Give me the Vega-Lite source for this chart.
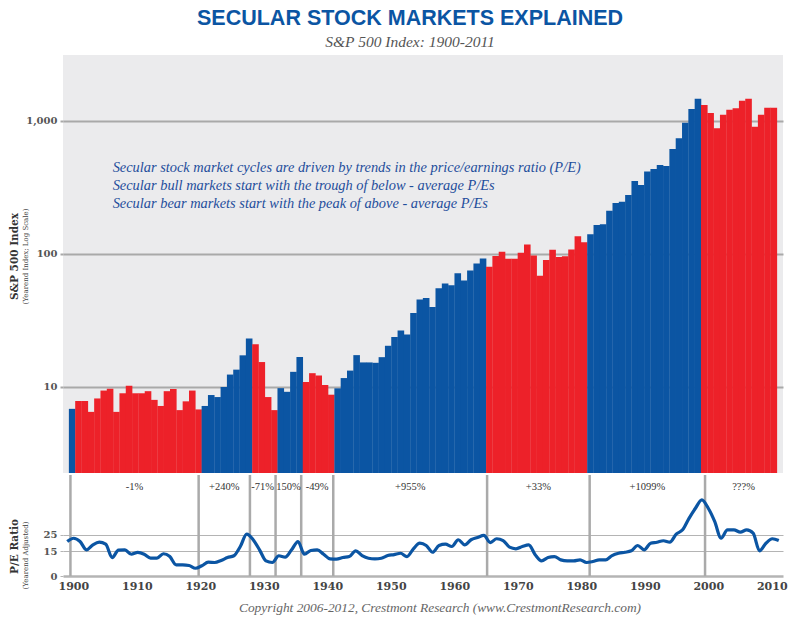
{
  "$schema": "https://vega.github.io/schema/vega-lite/v6.json",
  "description": "Secular stock markets explained: S&P 500 yearend index (log scale) with P/E ratio, 1900-2011.",
  "background": "white",
  "padding": {"left": 8, "top": 8, "right": 8, "bottom": 4},
  "title": {
    "text": "SECULAR STOCK MARKETS EXPLAINED",
    "subtitle": "S&P 500 Index: 1900-2011",
    "font": "Liberation Sans",
    "fontSize": 21.5,
    "fontWeight": "bold",
    "color": "#0b55a3",
    "subtitleFont": "Liberation Serif",
    "subtitleFontStyle": "italic",
    "subtitleFontSize": 15.5,
    "subtitleColor": "#555555",
    "subtitlePadding": 5,
    "anchor": "middle",
    "dx": 12,
    "offset": 5
  },
  "datasets": {
    "sp": [
      {"year": 1900, "index": 6.85, "market": "Bull"},
      {"year": 1901, "index": 7.85, "market": "Bear"},
      {"year": 1902, "index": 7.85, "market": "Bear"},
      {"year": 1903, "index": 6.5, "market": "Bear"},
      {"year": 1904, "index": 8.2, "market": "Bear"},
      {"year": 1905, "index": 9.4, "market": "Bear"},
      {"year": 1906, "index": 9.7, "market": "Bear"},
      {"year": 1907, "index": 6.5, "market": "Bear"},
      {"year": 1908, "index": 8.97, "market": "Bear"},
      {"year": 1909, "index": 10.2, "market": "Bear"},
      {"year": 1910, "index": 8.97, "market": "Bear"},
      {"year": 1911, "index": 8.97, "market": "Bear"},
      {"year": 1912, "index": 9.3, "market": "Bear"},
      {"year": 1913, "index": 8.0, "market": "Bear"},
      {"year": 1914, "index": 7.2, "market": "Bear"},
      {"year": 1915, "index": 9.3, "market": "Bear"},
      {"year": 1916, "index": 9.66, "market": "Bear"},
      {"year": 1917, "index": 6.7, "market": "Bear"},
      {"year": 1918, "index": 7.8, "market": "Bear"},
      {"year": 1919, "index": 9.4, "market": "Bear"},
      {"year": 1920, "index": 6.78, "market": "Bear"},
      {"year": 1921, "index": 7.2, "market": "Bull"},
      {"year": 1922, "index": 8.7, "market": "Bull"},
      {"year": 1923, "index": 8.4, "market": "Bull"},
      {"year": 1924, "index": 10.0, "market": "Bull"},
      {"year": 1925, "index": 12.4, "market": "Bull"},
      {"year": 1926, "index": 13.5, "market": "Bull"},
      {"year": 1927, "index": 17.3, "market": "Bull"},
      {"year": 1928, "index": 23.1, "market": "Bull"},
      {"year": 1929, "index": 21.0, "market": "Bear"},
      {"year": 1930, "index": 15.4, "market": "Bear"},
      {"year": 1931, "index": 8.4, "market": "Bear"},
      {"year": 1932, "index": 6.7, "market": "Bear"},
      {"year": 1933, "index": 9.8, "market": "Bull"},
      {"year": 1934, "index": 9.2, "market": "Bull"},
      {"year": 1935, "index": 13.0, "market": "Bull"},
      {"year": 1936, "index": 16.8, "market": "Bull"},
      {"year": 1937, "index": 10.9, "market": "Bear"},
      {"year": 1938, "index": 12.7, "market": "Bear"},
      {"year": 1939, "index": 12.2, "market": "Bear"},
      {"year": 1940, "index": 10.35, "market": "Bear"},
      {"year": 1941, "index": 8.75, "market": "Bear"},
      {"year": 1942, "index": 9.77, "market": "Bull"},
      {"year": 1943, "index": 11.67, "market": "Bull"},
      {"year": 1944, "index": 13.28, "market": "Bull"},
      {"year": 1945, "index": 17.36, "market": "Bull"},
      {"year": 1946, "index": 15.3, "market": "Bull"},
      {"year": 1947, "index": 15.3, "market": "Bull"},
      {"year": 1948, "index": 15.2, "market": "Bull"},
      {"year": 1949, "index": 16.76, "market": "Bull"},
      {"year": 1950, "index": 20.41, "market": "Bull"},
      {"year": 1951, "index": 23.77, "market": "Bull"},
      {"year": 1952, "index": 26.57, "market": "Bull"},
      {"year": 1953, "index": 24.81, "market": "Bull"},
      {"year": 1954, "index": 35.98, "market": "Bull"},
      {"year": 1955, "index": 45.48, "market": "Bull"},
      {"year": 1956, "index": 46.67, "market": "Bull"},
      {"year": 1957, "index": 39.99, "market": "Bull"},
      {"year": 1958, "index": 55.21, "market": "Bull"},
      {"year": 1959, "index": 59.89, "market": "Bull"},
      {"year": 1960, "index": 58.11, "market": "Bull"},
      {"year": 1961, "index": 71.55, "market": "Bull"},
      {"year": 1962, "index": 63.1, "market": "Bull"},
      {"year": 1963, "index": 75.02, "market": "Bull"},
      {"year": 1964, "index": 84.75, "market": "Bull"},
      {"year": 1965, "index": 92.43, "market": "Bull"},
      {"year": 1966, "index": 80.33, "market": "Bear"},
      {"year": 1967, "index": 96.47, "market": "Bear"},
      {"year": 1968, "index": 103.86, "market": "Bear"},
      {"year": 1969, "index": 92.06, "market": "Bear"},
      {"year": 1970, "index": 92.15, "market": "Bear"},
      {"year": 1971, "index": 102.09, "market": "Bear"},
      {"year": 1972, "index": 118.05, "market": "Bear"},
      {"year": 1973, "index": 97.55, "market": "Bear"},
      {"year": 1974, "index": 68.56, "market": "Bear"},
      {"year": 1975, "index": 90.19, "market": "Bear"},
      {"year": 1976, "index": 107.46, "market": "Bear"},
      {"year": 1977, "index": 95.1, "market": "Bear"},
      {"year": 1978, "index": 96.11, "market": "Bear"},
      {"year": 1979, "index": 107.94, "market": "Bear"},
      {"year": 1980, "index": 135.76, "market": "Bear"},
      {"year": 1981, "index": 122.55, "market": "Bear"},
      {"year": 1982, "index": 140.64, "market": "Bull"},
      {"year": 1983, "index": 164.93, "market": "Bull"},
      {"year": 1984, "index": 167.24, "market": "Bull"},
      {"year": 1985, "index": 211.28, "market": "Bull"},
      {"year": 1986, "index": 242.17, "market": "Bull"},
      {"year": 1987, "index": 247.08, "market": "Bull"},
      {"year": 1988, "index": 277.72, "market": "Bull"},
      {"year": 1989, "index": 353.4, "market": "Bull"},
      {"year": 1990, "index": 330.22, "market": "Bull"},
      {"year": 1991, "index": 417.09, "market": "Bull"},
      {"year": 1992, "index": 435.71, "market": "Bull"},
      {"year": 1993, "index": 466.45, "market": "Bull"},
      {"year": 1994, "index": 459.27, "market": "Bull"},
      {"year": 1995, "index": 615.93, "market": "Bull"},
      {"year": 1996, "index": 740.74, "market": "Bull"},
      {"year": 1997, "index": 970.43, "market": "Bull"},
      {"year": 1998, "index": 1229.23, "market": "Bull"},
      {"year": 1999, "index": 1469.25, "market": "Bull"},
      {"year": 2000, "index": 1320.28, "market": "Bear"},
      {"year": 2001, "index": 1148.08, "market": "Bear"},
      {"year": 2002, "index": 879.82, "market": "Bear"},
      {"year": 2003, "index": 1111.92, "market": "Bear"},
      {"year": 2004, "index": 1211.92, "market": "Bear"},
      {"year": 2005, "index": 1248.29, "market": "Bear"},
      {"year": 2006, "index": 1418.3, "market": "Bear"},
      {"year": 2007, "index": 1468.36, "market": "Bear"},
      {"year": 2008, "index": 903.25, "market": "Bear"},
      {"year": 2009, "index": 1115.1, "market": "Bear"},
      {"year": 2010, "index": 1257.64, "market": "Bear"},
      {"year": 2011, "index": 1257.6, "market": "Bear"}
    ],
    "pe": [
      {"year": 1900, "pe": 20.9}, {"year": 1901, "pe": 22.9}, {"year": 1902, "pe": 20.9},
      {"year": 1903, "pe": 15.9}, {"year": 1904, "pe": 18.9}, {"year": 1905, "pe": 20.5},
      {"year": 1906, "pe": 19.3}, {"year": 1907, "pe": 11.2}, {"year": 1908, "pe": 15.7},
      {"year": 1909, "pe": 15.9}, {"year": 1910, "pe": 13.2}, {"year": 1911, "pe": 14.3},
      {"year": 1912, "pe": 13.2}, {"year": 1913, "pe": 10.8}, {"year": 1914, "pe": 10.8},
      {"year": 1915, "pe": 13.5}, {"year": 1916, "pe": 11.8}, {"year": 1917, "pe": 6.8},
      {"year": 1918, "pe": 6.8}, {"year": 1919, "pe": 6.4}, {"year": 1920, "pe": 4.7},
      {"year": 1921, "pe": 6.2}, {"year": 1922, "pe": 8.4}, {"year": 1923, "pe": 8.2},
      {"year": 1924, "pe": 9.4}, {"year": 1925, "pe": 11.2}, {"year": 1926, "pe": 12.3},
      {"year": 1927, "pe": 17.9}, {"year": 1928, "pe": 25.4}, {"year": 1929, "pe": 22.0},
      {"year": 1930, "pe": 15.9}, {"year": 1931, "pe": 9.2}, {"year": 1932, "pe": 8.2},
      {"year": 1933, "pe": 12.3}, {"year": 1934, "pe": 11.4}, {"year": 1935, "pe": 15.9},
      {"year": 1936, "pe": 20.9}, {"year": 1937, "pe": 13.2}, {"year": 1938, "pe": 15.5},
      {"year": 1939, "pe": 15.9}, {"year": 1940, "pe": 13.2}, {"year": 1941, "pe": 10.4},
      {"year": 1942, "pe": 10.2}, {"year": 1943, "pe": 11.2}, {"year": 1944, "pe": 11.8},
      {"year": 1945, "pe": 15.3}, {"year": 1946, "pe": 12.4}, {"year": 1947, "pe": 10.8},
      {"year": 1948, "pe": 10.4}, {"year": 1949, "pe": 10.8}, {"year": 1950, "pe": 12.4},
      {"year": 1951, "pe": 13.0}, {"year": 1952, "pe": 13.8}, {"year": 1953, "pe": 11.8},
      {"year": 1954, "pe": 16.5}, {"year": 1955, "pe": 19.9}, {"year": 1956, "pe": 18.5},
      {"year": 1957, "pe": 14.4}, {"year": 1958, "pe": 18.5}, {"year": 1959, "pe": 19.3},
      {"year": 1960, "pe": 17.9}, {"year": 1961, "pe": 22.0}, {"year": 1962, "pe": 18.9},
      {"year": 1963, "pe": 22.0}, {"year": 1964, "pe": 23.4}, {"year": 1965, "pe": 24.6},
      {"year": 1966, "pe": 20.3}, {"year": 1967, "pe": 22.6}, {"year": 1968, "pe": 21.5},
      {"year": 1969, "pe": 17.5}, {"year": 1970, "pe": 16.5}, {"year": 1971, "pe": 17.9},
      {"year": 1972, "pe": 18.9}, {"year": 1973, "pe": 12.9}, {"year": 1974, "pe": 9.2},
      {"year": 1975, "pe": 11.2}, {"year": 1976, "pe": 11.8}, {"year": 1977, "pe": 9.8},
      {"year": 1978, "pe": 9.2}, {"year": 1979, "pe": 9.2}, {"year": 1980, "pe": 9.8},
      {"year": 1981, "pe": 8.2}, {"year": 1982, "pe": 8.8}, {"year": 1983, "pe": 9.8},
      {"year": 1984, "pe": 9.8}, {"year": 1985, "pe": 12.4}, {"year": 1986, "pe": 13.8},
      {"year": 1987, "pe": 14.4}, {"year": 1988, "pe": 15.3}, {"year": 1989, "pe": 18.5},
      {"year": 1990, "pe": 15.9}, {"year": 1991, "pe": 19.9}, {"year": 1992, "pe": 20.5},
      {"year": 1993, "pe": 21.4}, {"year": 1994, "pe": 20.5}, {"year": 1995, "pe": 25.4},
      {"year": 1996, "pe": 28.0}, {"year": 1997, "pe": 35.0}, {"year": 1998, "pe": 41.1},
      {"year": 1999, "pe": 46.2}, {"year": 2000, "pe": 41.1}, {"year": 2001, "pe": 33.1},
      {"year": 2002, "pe": 22.9}, {"year": 2003, "pe": 28.0}, {"year": 2004, "pe": 28.0},
      {"year": 2005, "pe": 26.6}, {"year": 2006, "pe": 28.0}, {"year": 2007, "pe": 26.0},
      {"year": 2008, "pe": 15.3}, {"year": 2009, "pe": 19.9}, {"year": 2010, "pe": 22.6},
      {"year": 2011, "pe": 21.5}
    ],
    "cycles": [
      {"start": 1900.5, "mid": 1910.5, "change": "-1%"},
      {"start": 1920.5, "mid": 1924.5, "change": "+240%"},
      {"start": 1928.5, "mid": 1930.5, "change": "-71%"},
      {"start": 1932.5, "mid": 1934.5, "change": "150%"},
      {"start": 1936.5, "mid": 1939, "change": "-49%"},
      {"start": 1941.5, "mid": 1953.5, "change": "+955%"},
      {"start": 1965.5, "mid": 1973.5, "change": "+33%"},
      {"start": 1981.5, "mid": 1990.5, "change": "+1099%"},
      {"start": 1999.5, "mid": 2005.5, "change": "???%"}
    ],
    "notes": [
      {"note": ["Secular stock market cycles are driven by trends in the price/earnings ratio (P/E)", "Secular bull markets start with the trough of below - average P/Es", "Secular bear markets start with the peak of above - average P/Es"]}
    ]
  },
  "spacing": 0,
  "vconcat": [
    {
      "width": 720,
      "height": 418,
      "view": {"fill": "#ebebed", "stroke": null},
      "layer": [
        {
          "data": {"name": "sp"},
          "mark": {"type": "bar", "width": 6.6},
          "encoding": {
            "x": {"field": "year", "type": "quantitative", "scale": {"domain": [1899.34, 2011.66], "nice": false, "zero": false}, "axis": null},
            "y": {
              "field": "index",
              "type": "quantitative",
              "scale": {"type": "log", "domain": [2.256, 3133], "nice": false},
              "axis": {
                "values": [10, 100, 1000],
                "format": ",",
                "labelFont": "DejaVu Serif",
                "labelFontWeight": "bold",
                "labelFontSize": 10,
                "labelColor": "#555555",
                "labelPadding": 3,
                "grid": true,
                "gridColor": "#a9a9a9",
                "gridWidth": 2,
                "tickColor": "#a9a9a9",
                "tickWidth": 2,
                "tickSize": 3,
                "domain": false,
                "title": "(Yearend Index; Log Scale)",
                "titleFont": "DejaVu Serif",
                "titleFontSize": 7,
                "titleFontWeight": "normal",
                "titleColor": "#444444",
                "titleX": -35,
                "titleY": 201
              }
            },
            "y2": {"datum": 2.256},
            "color": {"field": "market", "type": "nominal", "scale": {"domain": ["Bull", "Bear"], "range": ["#0b55a3", "#ed2129"]}, "legend": null}
          }
        },
        {
          "data": {"name": "sp"},
          "mark": {"type": "point", "opacity": 0},
          "encoding": {
            "x": {"field": "year", "type": "quantitative", "scale": {"domain": [1899.34, 2011.66], "nice": false, "zero": false}, "axis": null},
            "y": {
              "field": "index",
              "type": "quantitative",
              "axis": {
                "orient": "left",
                "labels": false,
                "ticks": false,
                "domain": false,
                "grid": false,
                "title": "S&P 500 Index",
                "titleFont": "DejaVu Serif",
                "titleFontSize": 10.5,
                "titleFontWeight": "bold",
                "titleColor": "#333333",
                "titleX": -44,
                "titleY": 201
              }
            }
          }
        },
        {
          "data": {"name": "notes"},
          "mark": {"type": "text", "align": "left", "baseline": "middle", "font": "Liberation Serif", "fontStyle": "italic", "fontSize": 14.4, "lineHeight": 18, "color": "#1f4e9c"},
          "encoding": {
            "x": {"datum": 1906.4},
            "y": {"datum": 443, "axis": null},
            "text": {"field": "note"}
          }
        }
      ],
      "resolve": {"axis": {"y": "independent"}}
    },
    {
      "width": 720,
      "height": 101,
      "title": {
        "text": "Copyright 2006-2012, Crestmont Research (www.CrestmontResearch.com)",
        "orient": "bottom",
        "anchor": "middle",
        "font": "Liberation Serif",
        "fontStyle": "italic",
        "fontWeight": "normal",
        "fontSize": 13.4,
        "color": "#666666",
        "dx": 17,
        "offset": 10
      },
      "layer": [
        {
          "data": {"name": "cycles"},
          "mark": {"type": "rule", "color": "#aaaaaa", "strokeWidth": 2.5},
          "encoding": {
            "x": {"field": "start", "type": "quantitative", "scale": {"domain": [1899.34, 2011.66], "nice": false, "zero": false}, "axis": null}
          }
        },
        {
          "data": {"name": "cycles"},
          "mark": {"type": "text", "baseline": "middle", "font": "Liberation Serif", "fontSize": 10.5, "color": "#333333"},
          "encoding": {
            "x": {"field": "mid", "type": "quantitative", "scale": {"domain": [1899.34, 2011.66], "nice": false, "zero": false}, "axis": null},
            "y": {"datum": 54.3, "axis": null},
            "text": {"field": "change", "type": "nominal"}
          }
        },
        {
          "data": {"name": "pe"},
          "mark": {"type": "line", "interpolate": "monotone", "strokeWidth": 3.2, "color": "#0b55a3"},
          "encoding": {
            "x": {"field": "year", "type": "quantitative", "scale": {"domain": [1899.34, 2011.66], "nice": false, "zero": false}, "axis": null},
            "y": {
              "field": "pe",
              "type": "quantitative",
              "scale": {"domain": [0, 61.3], "nice": false},
              "axis": {
                "values": [0, 15, 25],
                "labelFont": "DejaVu Serif",
                "labelFontWeight": "bold",
                "labelFontSize": 10,
                "labelColor": "#555555",
                "labelPadding": 3,
                "grid": true,
                "gridColor": "#b4b4b4",
                "gridWidth": {"condition": {"test": "datum.value === 0", "value": 2.5}, "value": 1},
                "tickColor": "#b4b4b4",
                "tickSize": 3,
                "domain": false,
                "title": "(Yearend Adjusted)",
                "titleFont": "DejaVu Serif",
                "titleFontSize": 7,
                "titleFontWeight": "normal",
                "titleColor": "#444444",
                "titleX": -35,
                "titleY": 80
              }
            }
          }
        },
        {
          "data": {"name": "pe"},
          "mark": {"type": "point", "opacity": 0},
          "encoding": {
            "x": {
              "field": "year", "type": "quantitative",
              "scale": {"domain": [1898.38, 2011.77], "nice": false, "zero": false},
              "axis": {"values": [1900, 1910, 1920, 1930, 1940, 1950, 1960, 1970, 1980, 1990, 2000, 2010], "format": "d", "labelFont": "DejaVu Serif", "labelFontWeight": "bold", "labelFontSize": 11, "labelColor": "#444444", "labelPadding": 4, "ticks": false, "domain": false, "grid": false, "title": null}
            },
            "y": {
              "field": "pe",
              "type": "quantitative",
              "axis": {
                "orient": "left",
                "labels": false,
                "ticks": false,
                "domain": false,
                "grid": false,
                "title": "P/E Ratio",
                "titleFont": "DejaVu Serif",
                "titleFontSize": 10.5,
                "titleFontWeight": "bold",
                "titleColor": "#333333",
                "titleX": -44,
                "titleY": 71
              }
            }
          }
        }
      ],
      "resolve": {"axis": {"y": "independent", "x": "independent"}, "scale": {"x": "independent"}}
    }
  ],
  "config": {"view": {"stroke": null}}
}
